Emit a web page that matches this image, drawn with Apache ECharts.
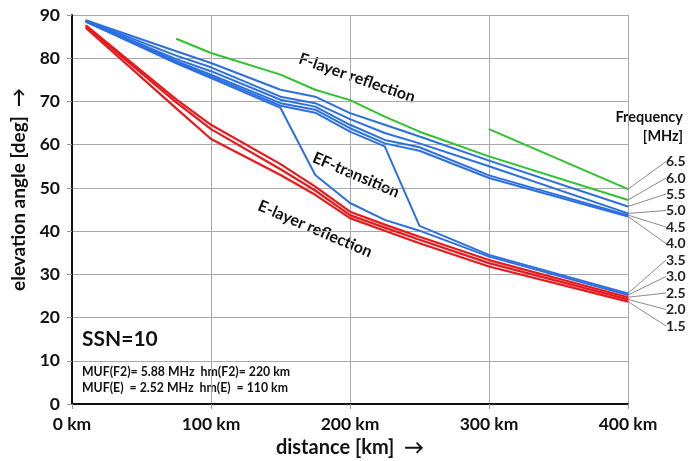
<!DOCTYPE html>
<html><head><meta charset="utf-8">
<script src="https://cdn.jsdelivr.net/npm/echarts@6/dist/echarts.min.js"></script>
<style>html,body{margin:0;padding:0;background:#fff}#c{width:695px;height:461px}</style>
</head><body><div id="c"></div>
<script>
const distances = [10, 75, 100, 150, 175, 200, 225, 250, 300, 400];
const f15 = [87.0, 68.4, 61.3, 53.0, 48.4, 43.0, 40.1, 37.2, 31.8, 23.7];
const f20 = [87.3, 69.8, 63.6, 54.3, 49.4, 43.7, 40.8, 38.0, 32.6, 24.2];
const f25 = [87.6, 70.5, 64.6, 55.5, 50.3, 44.5, 41.5, 38.7, 33.3, 24.7];
const f30 = [88.5, 78.8, 75.4, 68.5, 53.0, 46.5, 42.6, 40.1, 34.1, 25.2];
const f35 = [88.5, 79.0, 75.8, 69.0, 67.4, 63.0, 59.6, 41.2, 34.5, 25.6];
const f40 = [88.5, 79.3, 76.2, 69.6, 68.1, 63.8, 60.3, 58.6, 52.3, 43.4];
const f45 = [88.6, 79.8, 77.0, 70.4, 68.8, 64.6, 61.1, 59.4, 52.9, 43.7];
const f50 = [88.7, 80.6, 77.9, 71.1, 69.6, 65.9, 62.7, 60.3, 55.0, 44.1];
const f55 = [88.8, 81.6, 78.9, 72.7, 71.1, 67.3, 64.6, 61.9, 56.3, 45.7];
const f60 = [null, 84.5, 81.2, 76.2, 72.7, 70.3, 66.5, 63.0, 57.3, 47.2];
const f65 = [null, null, null, null, null, null, null, null, 63.6, 49.7];
const freqLabels = ['1.5', '2.0', '2.5', '3.0', '3.5', '4.0', '4.5', '5.0', '5.5', '6.0', '6.5'];
const xTickLabels = ['0 km', '100 km', '200 km', '300 km', '400 km'];
const allSeries = [f15, f20, f25, f30, f35, f40, f45, f50, f55, f60, f65];

const RED = '#e8191c', BLUE = '#2b6fe0', GREEN = '#2fc12f';
const colors = [RED, RED, RED, BLUE, BLUE, BLUE, BLUE, BLUE, BLUE, GREEN, GREEN];
const labelY = [326, 309.5, 293, 276.5, 260, 243.5, 227, 210.5, 194, 178, 161.5];
const FONT = 'Lato, "Open Sans", sans-serif';

const series = allSeries.map((vals, si) => ({
  type: 'line',
  name: freqLabels[si],
  z: si < 3 ? 3 : 2,
  symbol: 'circle',
  symbolSize: 1,
  showSymbol: true,
  connectNulls: false,
  itemStyle: { color: colors[si] },
  lineStyle: { color: colors[si], width: si < 3 ? 2.2 : 2 },
  emphasis: { disabled: true },
  data: distances.map((d, i) => {
    const pt = [d, vals[i]];
    if (i === distances.length - 1) {
      return { value: pt, label: { show: true, formatter: freqLabels[si] } };
    }
    return pt;
  }),
  label: { show: false, fontFamily: FONT, fontWeight: 'bold', fontSize: 14, color: '#222' },
  labelLine: { show: true, length2: 0, lineStyle: { color: '#8a8a8a', width: 1 } },
  labelLayout: function (p) {
    return { x: 666, y: labelY[si], align: 'left', verticalAlign: 'middle' };
  }
}));

const chart = echarts.init(document.getElementById('c'), null, { renderer: 'canvas' });
chart.setOption({
  animation: false,
  backgroundColor: '#fff',
  grid: { left: 72, right: 67, top: 15, bottom: 57, outerBoundsMode: 'none', containLabel: false },
  xAxis: {
    type: 'value', min: 0, max: 400, interval: 100,
    name: 'distance [km]  \u2192', nameLocation: 'middle', nameGap: 34,
    nameTextStyle: { fontFamily: FONT, fontWeight: 'bold', fontSize: 20, color: '#111' },
    axisLine: { show: true, lineStyle: { color: '#111', width: 2 } },
    axisTick: { show: true, length: 5, inside: false, lineStyle: { color: '#999' } },
    axisLabel: { fontFamily: FONT, fontWeight: 'bold', fontSize: 17.5, color: '#111', margin: 11,
      formatter: v => xTickLabels[Math.round(v / 100)] },
    splitLine: { show: true, lineStyle: { color: '#a8a8a8', width: 1 } }
  },
  yAxis: {
    type: 'value', min: 0, max: 90, interval: 10,
    name: 'elevation angle [deg]  \u2192', nameLocation: 'middle', nameGap: 44,
    nameTextStyle: { fontFamily: FONT, fontWeight: 'bold', fontSize: 19, color: '#111', padding: [0, 0, 0, 40] },
    axisLine: { show: true, lineStyle: { color: '#111', width: 2 } },
    axisTick: { show: true, length: 5, lineStyle: { color: '#999' } },
    axisLabel: { fontFamily: FONT, fontWeight: 'bold', fontSize: 17.5, color: '#111', margin: 12 },
    splitLine: { show: true, lineStyle: { color: '#a8a8a8', width: 1 } }
  },
  graphic: [
    { type: 'text', x: 357, y: 78, rotation: -19 * Math.PI / 180,
      style: { text: 'F-layer reflection', font: 'bold 16px ' + FONT, fill: '#111', align: 'center', verticalAlign: 'middle' } },
    { type: 'text', x: 356, y: 175, rotation: -23 * Math.PI / 180,
      style: { text: 'EF-transition', font: 'bold 16px ' + FONT, fill: '#111', align: 'center', verticalAlign: 'middle' } },
    { type: 'text', x: 315, y: 229, rotation: -23 * Math.PI / 180,
      style: { text: 'E-layer reflection', font: 'bold 16px ' + FONT, fill: '#111', align: 'center', verticalAlign: 'middle' } },
    { type: 'text', x: 683, y: 117,
      style: { text: 'Frequency', font: 'bold 14.5px ' + FONT, fill: '#111', align: 'right', verticalAlign: 'middle' } },
    { type: 'text', x: 683, y: 136,
      style: { text: '[MHz]', font: 'bold 14.5px ' + FONT, fill: '#111', align: 'right', verticalAlign: 'middle' } },
    { type: 'text', x: 82, y: 339,
      style: { text: 'SSN=10', font: 'bold 21px ' + FONT, fill: '#111', align: 'left', verticalAlign: 'middle' } },
    { type: 'text', x: 82, y: 372,
      style: { text: 'MUF(F2)= 5.88 MHz  hm(F2)= 220 km', font: 'bold 12.3px ' + FONT, fill: '#111', align: 'left', verticalAlign: 'middle' } },
    { type: 'text', x: 82, y: 388,
      style: { text: 'MUF(E)  = 2.52 MHz  hm(E)  = 110 km', font: 'bold 12.3px ' + FONT, fill: '#111', align: 'left', verticalAlign: 'middle' } }
  ],
  series: series
});
</script>
</body></html>
